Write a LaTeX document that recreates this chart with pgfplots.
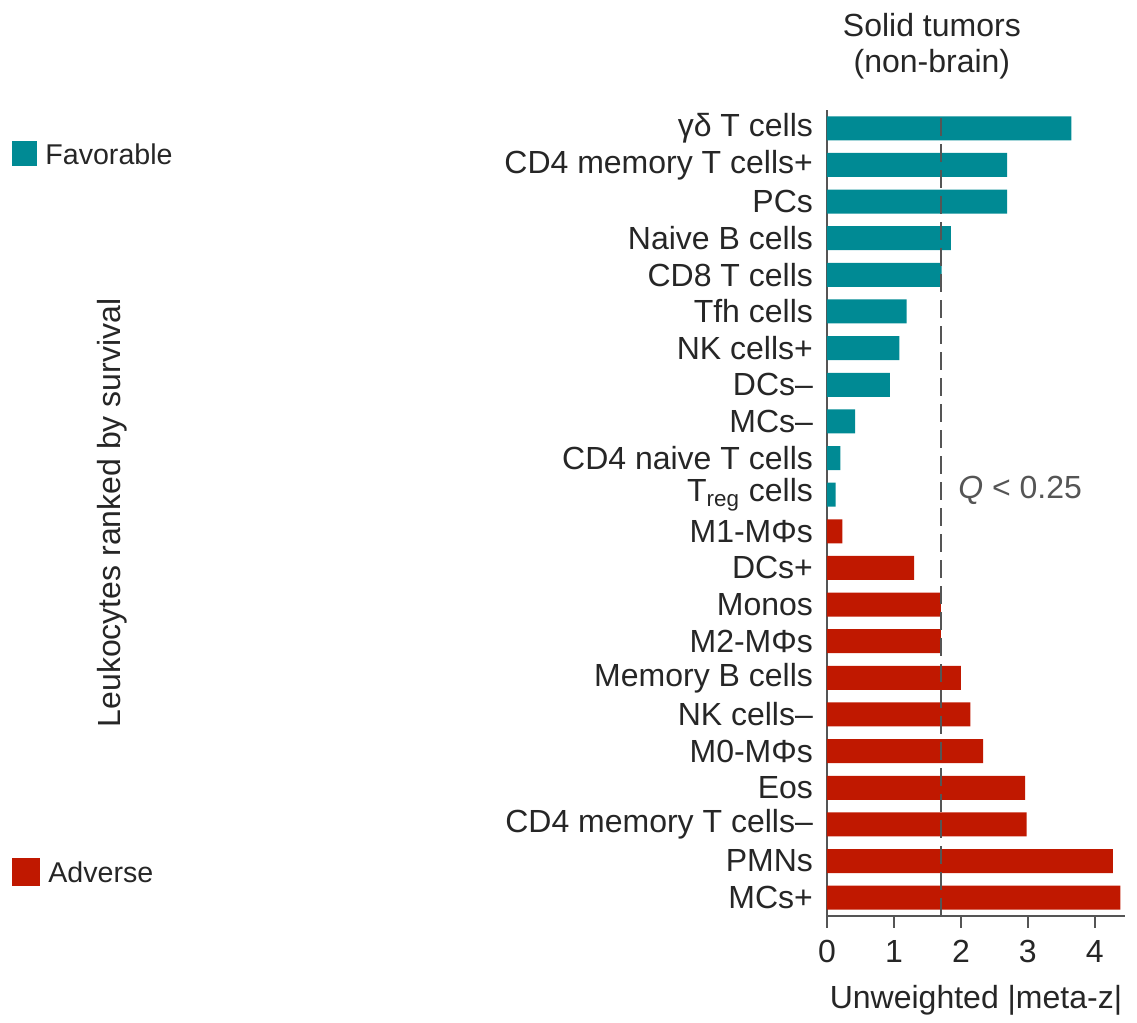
\documentclass[border=0pt]{standalone}
\usepackage{fontspec}
\setmainfont{Liberation Sans}
\usepackage{pgfplots}
\pgfplotsset{compat=1.18}
\definecolor{fav}{RGB}{0,138,148}
\definecolor{adv}{RGB}{192,24,0}
\definecolor{txt}{RGB}{38,38,38}
\definecolor{axgray}{RGB}{85,85,85}
\begin{document}
\begin{tikzpicture}
\path[use as bounding box] (0,0) rectangle (568.5pt,511.5pt);
\begin{axis}[
  at={(413.5pt,53.5pt)}, anchor=south west,
  scale only axis, width=149pt, height=403pt,
  xbar, bar width=12pt, bar shift=0pt,
  xmin=0, xmax=4.45, ymin=-0.5, ymax=21.5,
  axis x line*=bottom, axis y line*=left,
  axis line style={-, draw=axgray, line width=1pt},
  tick align=outside, major tick length=6pt,
  xtick={0,1,2,3,4},
  x tick style={draw=axgray, line width=1pt},
  ytick={0,...,21},
  y tick style={draw=none},
  yticklabels={MCs+, PMNs, CD4 memory T cells–, Eos, M0-MΦs, NK cells–, Memory B cells, M2-MΦs, Monos, DCs+, M1-MΦs, T\textsubscript{reg} cells, CD4 naive T cells, MCs–, DCs–, NK cells+, Tfh cells, CD8 T cells, Naive B cells, PCs, CD4 memory T cells+, γδ T cells},
  /pgf/number format/assume math mode=true,
  tick label style={font=\fontsize{16}{19}\selectfont, text=txt},
  y tick label style={xshift=2.5pt},
  x tick label style={yshift=-2.5pt},
  xlabel={Unweighted |meta-z|},
  xlabel style={at={(axis description cs:0.5,-0.104)}, anchor=center, font=\fontsize{16}{19}\selectfont, text=txt},
  ylabel={Leukocytes ranked by survival},
  ylabel style={at={(axis description cs:-2.40,0.5)}, anchor=center, rotate=0, font=\fontsize{16}{19}\selectfont, text=txt},
  clip=false,
]
\addplot[fill=fav, draw=none] coordinates {
 (3.65,21) (2.69,20) (2.69,19) (1.85,18) (1.71,17) (1.19,16) (1.08,15) (0.94,14) (0.42,13) (0.20,12) (0.13,11)};
\addplot[fill=adv, draw=none] coordinates {
 (0.23,10) (1.30,9) (1.70,8) (1.70,7) (2.00,6) (2.14,5) (2.33,4) (2.96,3) (2.98,2) (4.27,1) (4.38,0)};
\addplot[sharp plot, draw=axgray, line width=1pt, dash pattern=on 9pt off 4pt, mark=none] coordinates {(1.70,-0.5) (1.70,21.48)};
\node[font=\fontsize{16}{19}\selectfont, text=txt, anchor=base] at (axis description cs:0.352,1.0906) {Solid tumors};
\node[font=\fontsize{16}{19}\selectfont, text=txt, anchor=base] at (axis description cs:0.352,1.0459) {(non-brain)};
\node[font=\fontsize{16}{19}\selectfont, text=axgray, anchor=west, inner sep=0pt] at (axis cs:1.955,11.13) {\textit{Q} < 0.25};
\end{axis}
\node[fill=fav, minimum size=12.5pt, inner sep=0pt] at (12.25pt,434.5pt) {};
\node[anchor=west, inner sep=0pt, font=\fontsize{14.3}{17}\selectfont, text=txt] at (22.5pt,434.5pt) {Favorable};
\node[fill=adv, minimum size=14pt, inner sep=0pt] at (13pt,75.25pt) {};
\node[anchor=west, inner sep=0pt, font=\fontsize{14.3}{17}\selectfont, text=txt] at (24pt,75.25pt) {Adverse};
\end{tikzpicture}
\end{document}
